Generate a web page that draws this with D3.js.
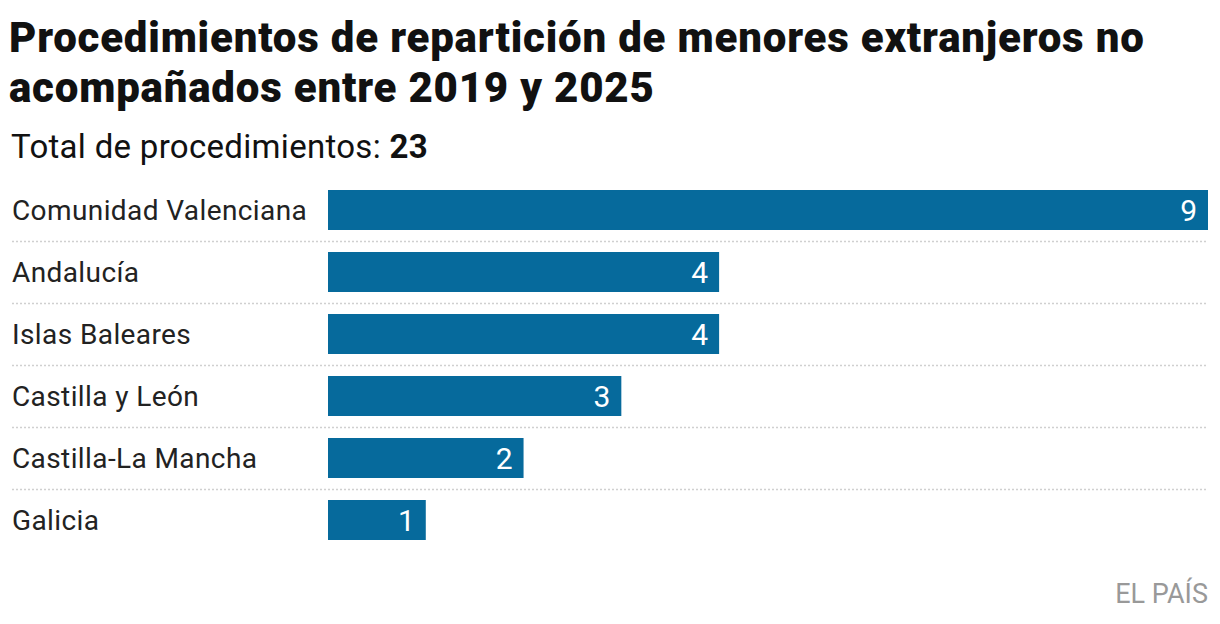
<!DOCTYPE html>
<html>
<head>
<meta charset="UTF-8">
<title>Procedimientos de repartición</title>
<script src="https://d3js.org/d3.v7.min.js"></script>
<style>
  body { margin: 0; background: #fff; }
  svg { display: block; }
</style>
</head>
<body>
<div id="chart"></div>
<script>
// datos
var regiones = ["Comunidad Valenciana", "Andalucía", "Islas Baleares", "Castilla y León", "Castilla-La Mancha", "Galicia"];
var procedimientos = [9, 4, 4, 3, 2, 1];
var totalProcedimientos = 23;

var width = 1220, height = 624;
var margin = { left: 12, barLeft: 328, right: 12, top: 179 };
var rowStep = 62, barH = 40;

var svg = d3.select("#chart").append("svg")
    .attr("width", width)
    .attr("height", height);

// titolo
var titulo = svg.append("text")
    .style("font-family", "Roboto")
    .style("font-weight", 900)
    .style("font-size", "42px")
    .style("letter-spacing", "0.8px")
    .style("fill", "#111");
titulo.append("tspan").attr("x", 9).attr("y", 52).text("Procedimientos de repartición de menores extranjeros no");
titulo.append("tspan").attr("x", 9).attr("y", 102).text("acompañados entre 2019 y 2025");

var sub = svg.append("text")
    .attr("x", 11)
    .attr("y", 158)
    .style("font-family", "Roboto")
    .style("font-size", "33px")
    .style("letter-spacing", "0.3px")
    .style("fill", "#111");
sub.append("tspan").text("Total de procedimientos: ");
sub.append("tspan").style("font-weight", 700).text(totalProcedimientos);

var x = d3.scaleLinear()
    .domain([0, d3.max(procedimientos)])
    .range([margin.barLeft, width - margin.right]);

var pad = (rowStep - barH) / rowStep;
var y = d3.scaleBand()
    .domain(regiones)
    .range([margin.top, margin.top + rowStep * regiones.length])
    .paddingInner(pad)
    .paddingOuter(pad / 2);

var datos = regiones.map(function (r, i) { return { region: r, valor: procedimientos[i] }; });

// linee tratteggiate
svg.selectAll(".sep")
    .data(regiones.slice(0, -1))
    .enter().append("line")
    .attr("class", "sep")
    .attr("x1", margin.left)
    .attr("x2", width - margin.right)
    .attr("y1", function (d) { return y(d) + y.step() - 10.5; })
    .attr("y2", function (d) { return y(d) + y.step() - 10.5; })
    .style("stroke", "#d0d0d0")
    .style("stroke-width", 1.5)
    .style("stroke-dasharray", "2,2");

svg.selectAll(".bar")
    .data(datos)
    .enter().append("rect")
    .attr("class", "bar")
    .attr("x", x(0))
    .attr("y", function (d) { return y(d.region); })
    .attr("width", function (d) { return x(d.valor) - x(0); })
    .attr("height", y.bandwidth())
    .style("fill", "#066a9c");

svg.selectAll(".lab")
    .data(datos)
    .enter().append("text")
    .attr("class", "lab")
    .attr("x", margin.left)
    .attr("y", function (d) { return y(d.region) + y.bandwidth() / 2 + 10; })
    .style("font-family", "Roboto")
    .style("font-size", "28px")
    .style("letter-spacing", "0.4px")
    .style("fill", "#222")
    .text(function (d) { return d.region; });

svg.selectAll(".val")
    .data(datos)
    .enter().append("text")
    .attr("class", "val")
    .attr("x", function (d) { return x(d.valor) - 11; })
    .attr("y", function (d) { return y(d.region) + y.bandwidth() / 2 + 11; })
    .attr("text-anchor", "end")
    .style("font-family", "Roboto")
    .style("font-size", "30px")
    .style("fill", "#fff")
    .text(function (d) { return d.valor; });

svg.append("text")
    .attr("x", width - margin.right)
    .attr("y", 603)
    .attr("text-anchor", "end")
    .style("font-family", "Roboto")
    .style("font-size", "27px")
    .style("fill", "#999")
    .text("EL PAÍS");
</script>
</body>
</html>
